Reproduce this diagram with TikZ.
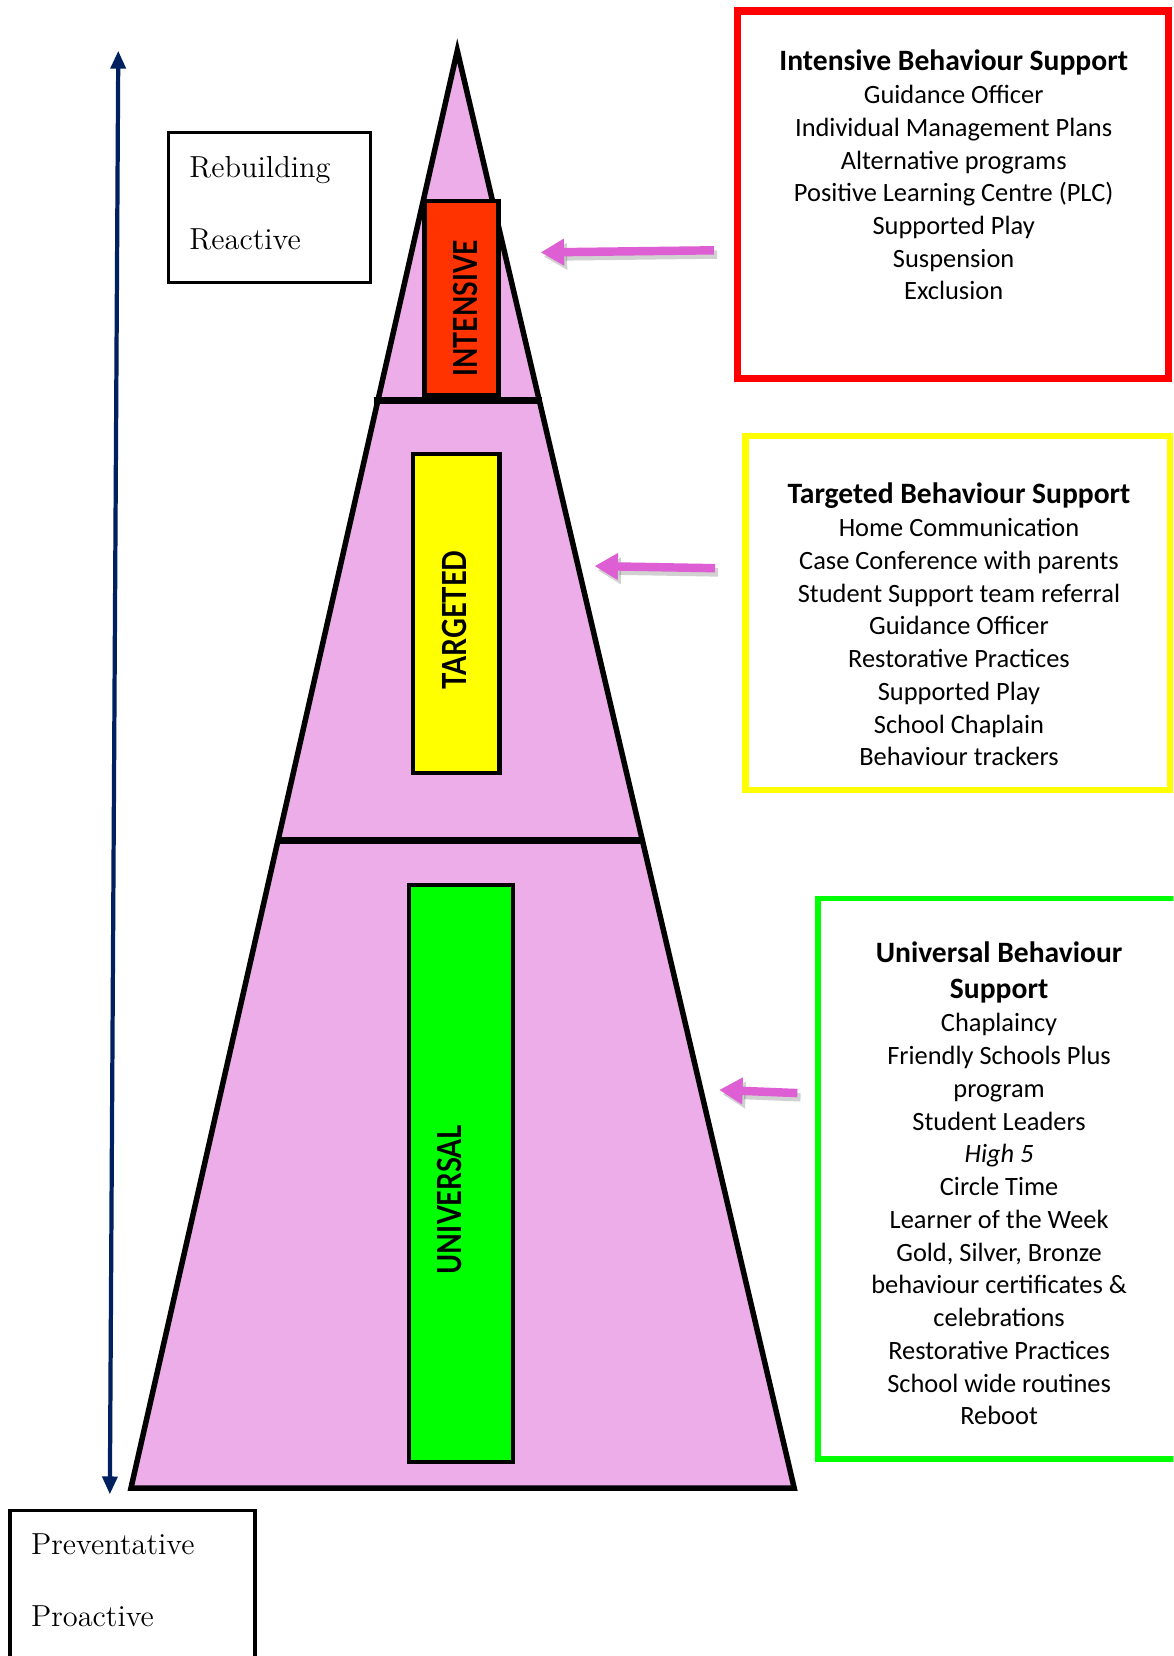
\documentclass[tikz,border=0pt]{standalone}
\usepackage{fontspec}
\newfontfamily\calibri{Carlito}
\newfontfamily\labfont{Lato}
\usetikzlibrary{arrows.meta,calc}
\definecolor{pinkfill}{HTML}{ECADE8}
\definecolor{arrowpink}{HTML}{DD5FD3}
\definecolor{navyblue}{HTML}{002060}
\definecolor{intred}{HTML}{FF3300}
\definecolor{boxred}{HTML}{FF0000}
\definecolor{boxyellow}{HTML}{FFFF00}
\definecolor{boxgreen}{HTML}{00FF00}
\tikzset{
  tierbox/.style={draw=black, line width=2pt, inner sep=0pt},
  tierlabel/.style={rotate=90, inner sep=0pt},
  bigbox/.style={line width=#1, inner sep=0pt, fill=white},
  listtext/.style={font=\calibri\fontsize{12.5}{15.5}\selectfont, align=center, inner sep=0pt, anchor=north},
  sidebox/.style={draw=black, line width=1.5pt, inner sep=0pt, fill=white},
  sidetext/.style={font=\fontsize{14.4}{17}\selectfont, anchor=base west, inner sep=0pt},
  pinkarrow/.style={draw=arrowpink, line width=4pt, -{Triangle[length=11pt,width=12pt]}},
  shadowarrow/.style={draw=black, opacity=0.18, line width=4pt, -{Triangle[length=11pt,width=12pt]}},
  bluearrow/.style={draw=navyblue, line width=2pt, {Triangle[length=8.5pt,width=7pt]}-{Triangle[length=8.5pt,width=7pt]}}
}
\newcommand{\tlab}[2]{\resizebox{#1}{11.5pt}{\labfont\bfseries #2}}
\newcommand{\ttl}[1]{\textbf{\fontsize{14}{15.5}\selectfont #1}}
\begin{document}
\begin{tikzpicture}[x=0.5pt,y=-0.5pt]
\clip (0,0) rectangle (1111,1568);
\fill[white] (0,0) rectangle (1111,1568);

% pyramid
\coordinate (apex) at (433,48);
\coordinate (bl) at (124,1409);
\coordinate (br) at (752,1409);
\filldraw[fill=pinkfill, draw=black, line width=2.6pt, line join=miter] (apex) -- (br) -- (bl) -- cycle;

% tier boxes
\node[tierbox, fill=intred, minimum width=35pt, minimum height=92pt] (intbox) at (437,282) {};
\node[tierbox, fill=boxyellow, minimum width=41pt, minimum height=151pt] (tarbox) at (432,581) {};
\node[tierbox, fill=boxgreen, minimum width=49.5pt, minimum height=273pt] (unibox) at (436.5,1111) {};

% separators
\coordinate (s1l) at ($(apex)!0.2432!(bl)+(-4,0)$);
\coordinate (s1r) at ($(apex)!0.2432!(br)+(3,0)$);
\coordinate (s2l) at ($(apex)!0.5496!(bl)+(-1,0)$);
\coordinate (s2r) at ($(apex)!0.5496!(br)+(1,0)$);
\draw[line width=3.4pt] (s1l) -- (s1r);
\draw[line width=3.4pt] (s2l) -- (s2r);

% tier labels
\node[tierlabel] (intlab) at (441,292) {\tlab{64.5pt}{INTENSIVE}};
\node[tierlabel] (tarlab) at (430,587) {\tlab{66pt}{TARGETED}};
\node[tierlabel] (unilab) at (426,1136) {\tlab{70.5pt}{UNIVERSAL}};

% blue double arrow
\coordinate (btop) at (112,48);
\coordinate (bbot) at (104,1415);
\draw[bluearrow] (btop) -- (bbot);

% side boxes
\node[sidebox, minimum width=95.5pt, minimum height=71pt] (rebox) at (255,196.5) {};
\node[sidetext] (reb) at (179,168) {Rebuilding};
\node[sidetext] (rea) at (179,236) {Reactive};
\node[sidebox, minimum width=116pt, minimum height=84.75pt] (prbox) at (125.5,1515.25) {};
\node[sidetext] (prev) at (29,1472) {Preventative};
\node[sidetext] (proa) at (29,1540) {Proactive};

% big boxes
\node[bigbox=3.5pt, draw=boxred, minimum width=204pt, minimum height=174pt] (redbox) at (902.5,184.5) {};
\node[bigbox=3pt, draw=boxyellow, minimum width=201pt, minimum height=167.5pt] (yelbox) at (907,580.5) {};
\node[bigbox=2.5pt, draw=boxgreen, minimum width=177.75pt, minimum height=265.5pt] (grnbox) at (952.25,1116) {};

\node[listtext] (inttext) at (903,47) {\ttl{Intensive Behaviour Support}\\Guidance Officer\\Individual Management Plans\\Alternative programs\\Positive Learning Centre (PLC)\\Supported Play\\Suspension\\Exclusion};
\node[listtext] (tartext) at (908,457) {\ttl{Targeted Behaviour Support}\\Home Communication\\Case Conference with parents\\Student Support team referral\\Guidance Officer\\Restorative Practices\\Supported Play\\School Chaplain\\Behaviour trackers};
\node[listtext] (unitext) at (946,891) {\ttl{Universal Behaviour}\\[1.5pt]\ttl{Support}\\[0.5pt]Chaplaincy\\Friendly Schools Plus\\program\\Student Leaders\\\textit{High 5}\\Circle Time\\Learner of the Week\\Gold, Silver, Bronze\\behaviour certificates \&\\celebrations\\Restorative Practices\\School wide routines\\Reboot};

% pink arrows
\coordinate (a1t) at (676,237); \coordinate (a1h) at (512,239);
\coordinate (a2t) at (677,538); \coordinate (a2h) at (563,536);
\coordinate (a3t) at (755,1035); \coordinate (a3h) at (681,1032);
\foreach \t/\h in {a1t/a1h, a2t/a2h, a3t/a3h}{
  \draw[shadowarrow, transform canvas={shift={(1.5pt,-2pt)}}] (\t) -- (\h);
  \draw[pinkarrow] (\t) -- (\h);
}
\end{tikzpicture}
\end{document}
